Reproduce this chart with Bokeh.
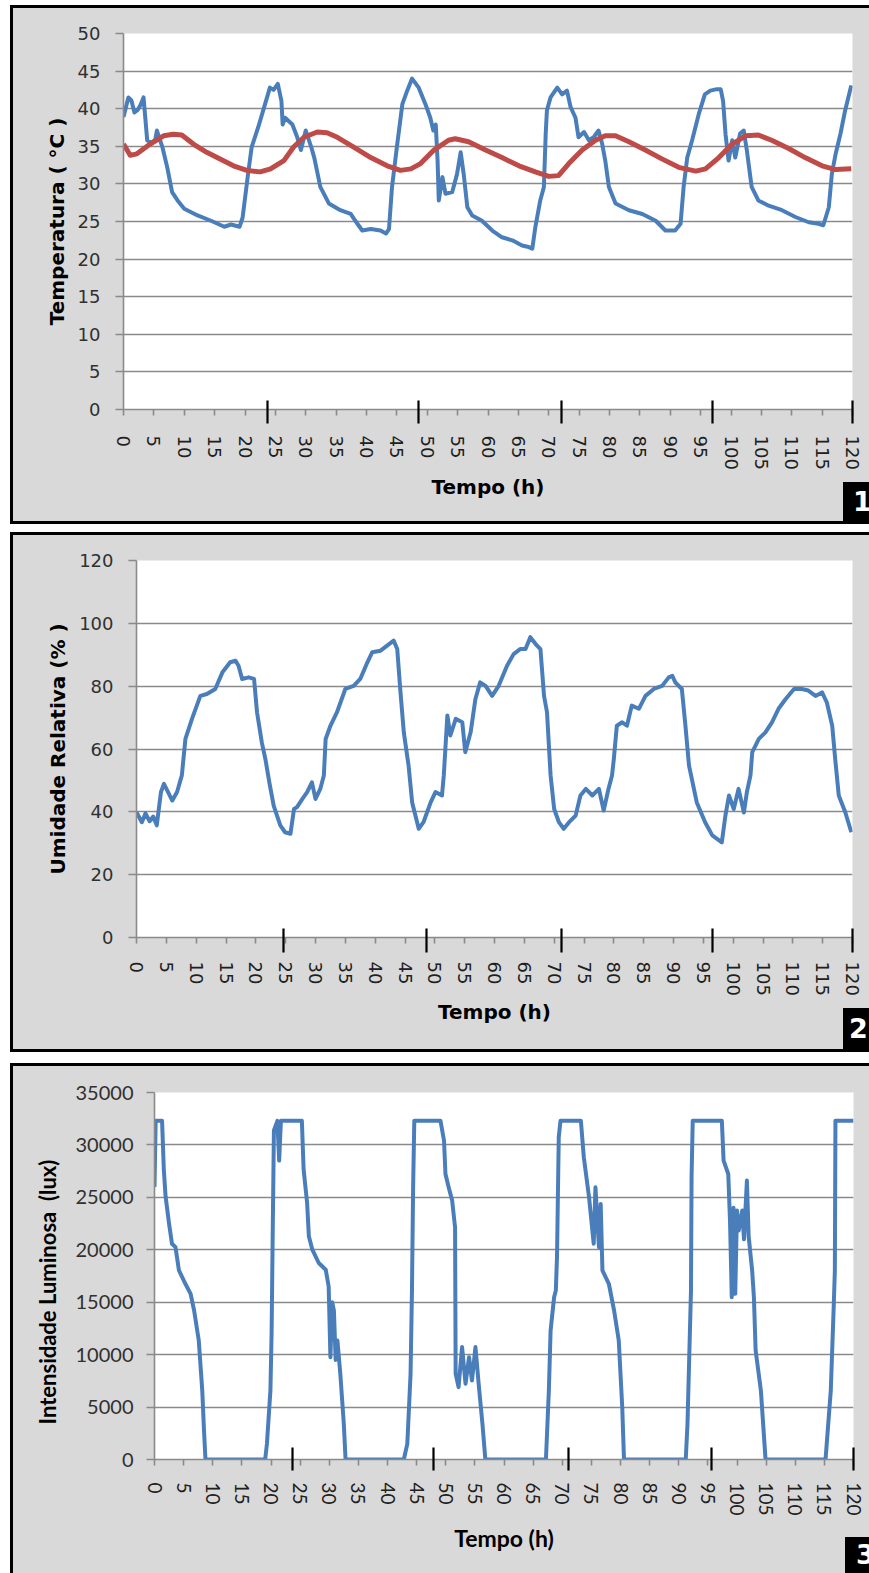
from bokeh.plotting import figure
from bokeh.layouts import column, row
from bokeh.models import Range1d, FixedTicker, Spacer, Div
from bokeh.embed import file_html
from bokeh.resources import INLINE

# ---------------- data ----------------
hour_ticks = list(range(0, 121, 5))
temp_ticks = list(range(0, 51, 5))
rh_ticks = list(range(0, 121, 20))
lux_ticks = list(range(0, 35001, 5000))

# Panel 1 - blue: air temperature
temp_hours = [0, 0.8, 1.3, 1.8, 2.3, 2.8, 3.3, 3.9, 4.5, 5.2,
              5.5, 6.4, 7.2, 8.0, 8.9, 10.0, 12.2, 14.4, 16.6, 17.7,
              19.1, 19.6, 20.5, 21.1, 22.2, 23.3, 24.1, 24.7, 25.4, 26.0,
              26.2, 26.6, 27.8, 28.6, 29.2, 30.0, 30.9, 31.4, 32.4, 33.8,
              35.7, 37.4, 38.5, 39.3, 40.7, 42.3, 43.2, 43.7, 44.2, 45.0,
              45.9, 46.7, 47.5, 48.6, 49.7, 50.5, 51.0, 51.4, 51.7, 51.9,
              52.5, 53.0, 54.1, 54.9, 55.5, 56.0, 56.6, 57.4, 59.0, 60.7,
              62.3, 64.0, 65.6, 66.7, 67.3, 67.8, 68.6, 69.2, 69.5, 69.7,
              70.3, 71.4, 72.2, 73.0, 73.6, 74.4, 74.9, 75.8, 76.6, 77.4,
              78.2, 78.8, 79.3, 79.9, 81.0, 83.2, 85.4, 87.6, 89.2, 90.8,
              91.7, 92.2, 92.8, 93.6, 94.7, 95.7, 96.6, 97.7, 98.3, 98.7,
              99.1, 99.6, 100.2, 100.7, 101.5, 102.1, 102.6, 103.4, 104.5, 106.2,
              108.4, 110.6, 112.8, 114.4, 115.2, 116.1, 116.6, 117.2, 118.0, 118.8,
              119.8]
temp_air = [38.9, 41.5, 41.1, 39.5, 39.8, 40.5, 41.5, 35.8, 35.5, 35.8,
            37.1, 34.9, 32.2, 28.9, 27.8, 26.7, 25.8, 25.1, 24.3, 24.6,
            24.3, 25.5, 31.3, 34.9, 37.6, 40.6, 42.8, 42.5, 43.3, 41.0,
            37.9, 38.8, 37.9, 36.2, 34.5, 37.1, 34.9, 33.5, 29.6, 27.4,
            26.5, 26.0, 24.7, 23.8, 24.0, 23.8, 23.4, 24.0, 29.6, 34.9,
            40.6, 42.4, 44.0, 42.8, 40.6, 38.8, 37.1, 37.9, 33.1, 27.8,
            30.9, 28.7, 28.9, 31.3, 34.2, 31.3, 26.9, 25.8, 25.1, 23.8,
            22.9, 22.5, 21.8, 21.6, 21.4, 24.3, 27.8, 29.6, 36.7, 39.8,
            41.5, 42.8, 41.9, 42.4, 40.2, 38.8, 36.2, 36.9, 35.8, 36.2,
            37.1, 35.3, 33.1, 29.6, 27.4, 26.5, 26.0, 25.1, 23.8, 23.8,
            24.7, 29.6, 33.5, 35.8, 39.3, 41.9, 42.4, 42.6, 42.6, 41.0,
            36.6, 33.1, 35.8, 33.5, 36.7, 37.1, 34.5, 29.6, 27.8, 27.1,
            26.5, 25.6, 24.9, 24.7, 24.5, 26.9, 31.3, 33.9, 36.6, 39.8,
            43.1]

# Panel 1 - red: second temperature series
ref_hours = [0, 1.1, 2.2, 4.4, 6.6, 8.2, 9.6, 11.5, 13.7, 15.9,
             18.1, 20.3, 22.5, 24.2, 26.4, 28.0, 29.7, 31.9, 33.5, 35.2,
             37.9, 40.7, 43.4, 45.6, 47.3, 48.9, 51.1, 53.5, 54.6, 56.8,
             59.6, 62.3, 65.1, 67.8, 70.0, 71.6, 73.3, 75.5, 77.7, 79.3,
             81.0, 83.2, 85.9, 88.7, 91.4, 94.2, 95.8, 98.0, 100.2, 102.4,
             104.5, 106.7, 109.5, 112.2, 115.0, 117.2, 119.8]
ref_temp = [35.3, 33.8, 34.0, 35.3, 36.4, 36.6, 36.5, 35.3, 34.2, 33.3,
            32.4, 31.8, 31.6, 32.0, 33.1, 34.9, 36.2, 36.9, 36.8, 36.2,
            34.9, 33.5, 32.4, 31.8, 32.0, 32.7, 34.5, 35.8, 36.0, 35.6,
            34.5, 33.5, 32.4, 31.6, 31.0, 31.1, 32.7, 34.5, 35.8, 36.4,
            36.4, 35.6, 34.5, 33.3, 32.2, 31.7, 32.0, 33.5, 35.3, 36.4,
            36.5, 35.8, 34.7, 33.5, 32.4, 31.9, 32.0]

# Panel 2 - relative humidity
rh_hours = [0, 0.9, 1.5, 2.2, 2.8, 3.4, 4.1, 4.6, 6.0, 6.8,
            7.6, 8.2, 9.3, 10.7, 11.8, 13.2, 14.4, 15.7, 16.6, 17.1,
            17.7, 18.8, 19.7, 20.2, 21.0, 21.6, 22.3, 23.0, 24.1, 24.9,
            25.8, 26.4, 26.9, 27.8, 28.6, 29.4, 30.0, 30.8, 31.4, 31.7,
            32.5, 33.6, 35.0, 36.4, 37.5, 38.7, 39.5, 40.9, 42.0, 43.1,
            43.7, 44.2, 44.8, 45.6, 46.2, 47.3, 48.1, 49.3, 50.1, 51.2,
            51.5, 52.1, 52.6, 53.5, 54.6, 55.1, 56.0, 56.8, 57.6, 58.5,
            59.6, 60.7, 62.1, 63.2, 64.3, 65.2, 66.0, 66.9, 67.7, 68.3,
            68.8, 69.4, 70.0, 70.8, 71.6, 72.5, 73.6, 74.4, 75.3, 76.4,
            77.5, 78.3, 79.1, 79.7, 80.0, 80.5, 81.4, 82.2, 83.0, 84.2,
            85.3, 86.7, 88.1, 89.2, 89.8, 90.3, 91.4, 92.0, 92.6, 93.9,
            95.3, 96.5, 98.1, 98.7, 99.3, 100.1, 100.9, 101.8, 102.3, 102.9,
            103.2, 104.3, 105.4, 106.5, 107.6, 108.8, 110.2, 111.5, 112.6, 113.8,
            114.9, 115.7, 116.6, 117.1, 117.7, 118.8, 119.8]
rh_values = [39.9, 36.7, 39.5, 37.0, 38.5, 35.7, 46.3, 48.9, 43.6, 46.3,
             51.6, 63.2, 69.6, 76.9, 77.5, 79.1, 84.4, 87.6, 88.1, 86.5,
             82.3, 82.8, 82.3, 71.7, 62.1, 56.8, 49.0, 41.9, 35.7, 33.5,
             33.0, 40.9, 41.5, 44.1, 46.3, 49.4, 44.1, 47.3, 51.6, 63.2,
             67.4, 71.7, 79.1, 80.1, 82.3, 87.6, 90.8, 91.3, 92.9, 94.5,
             91.8, 79.1, 65.3, 54.7, 43.0, 34.6, 36.7, 43.0, 46.3, 45.2,
             51.6, 70.7, 64.3, 69.6, 68.5, 59.0, 65.3, 75.9, 81.2, 80.1,
             76.9, 80.1, 86.5, 90.2, 91.8, 91.8, 95.6, 93.4, 91.8, 76.9,
             71.7, 51.6, 40.9, 36.7, 34.6, 36.7, 38.8, 45.2, 47.3, 45.2,
             47.3, 40.4, 47.3, 51.6, 56.8, 67.4, 68.5, 67.4, 73.8, 72.8,
             76.9, 79.1, 80.1, 82.8, 83.3, 81.2, 79.1, 67.4, 54.7, 43.0,
             36.7, 32.5, 30.3, 38.8, 45.2, 40.9, 47.3, 39.8, 46.3, 51.6,
             59.0, 63.2, 65.3, 68.5, 72.8, 75.9, 79.1, 79.1, 78.6, 76.9,
             78.0, 74.8, 67.4, 56.8, 45.2, 39.8, 33.5]

# Panel 3 - light intensity (lux)
lux_hours = [0, 0.2, 1.3, 1.6, 1.9, 2.5, 3.0, 3.6, 4.2, 5.3,
             6.2, 6.8, 7.6, 8.2, 8.5, 8.75, 19.0, 19.3, 19.9, 20.1,
             20.3, 20.5, 21.1, 21.4, 21.7, 25.3, 25.6, 26.2, 26.5, 27.1,
             28.2, 29.4, 29.9, 30.2, 30.5, 30.8, 31.1, 31.4, 31.9, 32.5,
             32.8, 42.8, 43.4, 43.96, 44.2, 44.4, 44.6, 49.1, 49.7, 49.95,
             50.5, 51.1, 51.6, 51.7, 52.2, 52.8, 53.4, 54.0, 54.5, 55.1,
             55.7, 56.3, 56.8, 67.2, 67.7, 68.0, 68.6, 68.9, 69.1, 69.4,
             69.7, 73.2, 73.7, 74.6, 75.4, 75.7, 76.3, 76.6, 76.9, 78.0,
             78.9, 79.7, 80.3, 80.6, 91.2, 91.5, 92.1, 92.2, 92.4, 97.4,
             97.7, 98.5, 98.8, 99.1, 99.4, 99.7, 100.0, 100.3, 100.9, 101.2,
             101.7, 102.0, 102.6, 102.9, 103.2, 104.1, 104.9, 115.2, 116.1, 116.6,
             116.8, 116.9, 120]
lux_values = [26000, 32300, 32300, 27650, 25100, 22480, 20570, 20250, 18030, 16760,
              15800, 14210, 11350, 6580, 2760, 0, 0, 1490, 6580, 12000,
              21840, 31380, 32300, 28510, 32300, 32300, 27650, 24470, 21290, 20010,
              18740, 18100, 16500, 9760, 15000, 14210, 9500, 11350, 8170, 3400,
              0, 0, 1490, 8170, 16120, 26000, 32300, 32300, 30420, 27230,
              25960, 24690, 22140, 8170, 6900, 10720, 7220, 9760, 7530, 10720,
              6900, 3400, 0, 0, 6580, 12300, 15480, 16120, 19380, 30760,
              32300, 32300, 28830, 25010, 20570, 25960, 20250, 24370, 18030, 16760,
              14210, 11350, 5000, 0, 0, 3400, 16120, 26920, 32300, 32300,
              28510, 27230, 22780, 15480, 24000, 15800, 23740, 21840, 23740, 21000,
              26600, 21290, 18030, 15480, 10400, 6580, 0, 0, 6580, 14530,
              18030, 32300, 32300]

# hand-drawn day marks on the time axes (hours)
day_marks_1 = [23.65, 48.5, 72.1, 96.9, 120]
day_marks_2 = [24.6, 48.6, 71.2, 96.5, 120]
day_marks_3 = [23.7, 47.9, 71.1, 95.7, 120]

# ---------------- styling ----------------
PAGE_LEFT = 10     # white strip left of the panels
BLOCK_W = 859      # panel incl. its 3px left border
BORDER = 3
CANVAS_W = BLOCK_W - BORDER
BG = "#d9d9d9"
GRID = "#8a8a8a"
BLUE = "#4a7ebb"
RED = "#be4b48"


def bar(w, h, color="black"):
    return Div(text="", width=w, height=h, margin=(0, 0, 0, 0),
               styles={"background-color": color})


def number_box(number, left, width, height, pad_left):
    html = ('<div style="margin:0;padding:0 0 0 %dpx;color:white;font-family:\'DejaVu Sans\';'
            'font-weight:bold;font-size:27px;line-height:%dpx;">%s</div>' % (pad_left, height, number))
    return Div(text=html, width=width, height=height, margin=(0, 0, 0, 0),
               styles={"background-color": "black", "margin-top": "-%dpx" % height,
                       "margin-left": "%dpx" % left, "position": "relative", "z-index": "10",
                       "overflow": "hidden"})


def make_panel(height, left, top, fw, fh, y_max, y_ticks, y_title,
               tick_font, ytick_size, xtick_size, title_font, ytitle_size, xtitle_size,
               ylab_standoff, ytitle_standoff, xlab_standoff, xtitle_standoff,
               marks, mark_above, mark_below):
    right = CANVAS_W - left - fw
    bottom = height - top - fh
    p = figure(width=CANVAS_W, height=height, x_range=Range1d(0, 120), y_range=Range1d(0, y_max),
               output_backend="svg", toolbar_location=None, frame_align=False,
               min_border_left=left, min_border_right=right,
               min_border_top=top, min_border_bottom=bottom)
    p.border_fill_color = BG
    p.background_fill_color = "white"
    p.outline_line_color = None
    p.xgrid.visible = False
    p.ygrid.grid_line_color = GRID
    p.ygrid.grid_line_width = 1.6

    ya = p.yaxis[0]
    ya.ticker = FixedTicker(ticks=y_ticks, minor_ticks=[])
    ya.axis_line_color = GRID
    ya.axis_line_width = 1.6
    ya.major_tick_line_color = GRID
    ya.major_tick_line_width = 1.6
    ya.major_tick_out = 8
    ya.major_tick_in = 0
    ya.minor_tick_line_color = None
    ya.major_label_text_font = tick_font
    ya.major_label_text_font_size = ytick_size
    ya.major_label_text_color = "#303030"
    ya.major_label_standoff = ylab_standoff
    ya.axis_label = y_title
    ya.axis_label_text_font = title_font
    ya.axis_label_text_font_style = "bold"
    ya.axis_label_text_font_size = ytitle_size
    ya.axis_label_text_color = "black"
    ya.axis_label_standoff = ytitle_standoff

    # time axis: gray 5-h ticks (major, labelled) and black day marks (minor)
    xa = p.xaxis[0]
    xa.ticker = FixedTicker(ticks=hour_ticks, minor_ticks=marks)
    xa.axis_line_color = GRID
    xa.axis_line_width = 1.6
    xa.major_tick_line_color = GRID
    xa.major_tick_line_width = 1.6
    xa.major_tick_in = 0
    xa.major_tick_out = 6
    xa.minor_tick_line_color = "black"
    xa.minor_tick_line_width = 2.2
    xa.minor_tick_in = mark_above
    xa.minor_tick_out = mark_below
    xa.major_label_orientation = "vertical"
    xa.major_label_text_font = tick_font
    xa.major_label_text_font_size = xtick_size
    xa.major_label_text_color = "#202020"
    xa.major_label_standoff = xlab_standoff
    xa.axis_label = "Tempo (h)"
    xa.axis_label_text_font = title_font
    xa.axis_label_text_font_style = "bold"
    xa.axis_label_text_font_size = xtitle_size
    xa.axis_label_text_color = "black"
    xa.axis_label_standoff = xtitle_standoff
    return p


def framed(p, height, box, bottom_border=True):
    body = row(bar(BORDER, height), p, styles={"background-color": BG})
    parts = [bar(BLOCK_W, BORDER), body, box]
    if bottom_border:
        parts.append(bar(BLOCK_W, BORDER))
    return row(Spacer(width=PAGE_LEFT), column(*parts, styles={"background-color": BG}))


p1 = make_panel(513, 110, 25, 729, 376, 50, temp_ticks, "Temperatura ( °C )",
                "DejaVu Sans", "18px", "18px", "DejaVu Sans", "20px", "20px",
                15, 6, 12, 2, day_marks_1, 9, 14)
p1.line(temp_hours, temp_air, line_color=BLUE, line_width=4, line_join="round")
p1.line(ref_hours, ref_temp, line_color=RED, line_width=5, line_join="round")

p2 = make_panel(514, 123, 25, 716, 377, 120, rh_ticks, "Umidade Relativa (% )",
                "DejaVu Sans", "18px", "18px", "DejaVu Sans", "20px", "20px",
                15, 6, 9, 1, day_marks_2, 9, 15)
p2.line(rh_hours, rh_values, line_color=BLUE, line_width=4, line_join="round")

p3 = make_panel(507, 141, 26, 699, 367, 35000, lux_ticks,
                "Intensidade Luminosa\u00a0 (lux)" + "\u00a0" * 6,
                "Lato", "20px", "19px", "Lato", "22px", "23px",
                13, 12, 12, 5, day_marks_3, 12, 11)
p3.line(lux_hours, lux_values, line_color=BLUE, line_width=4, line_join="round")

box1 = number_box("1", 833, 26, 39, 10)
box2 = number_box("2", 833, 26, 41, 6)
box3 = number_box("3", 835, 24, 36, 11)

layout = column(Spacer(height=5), framed(p1, 513, box1), Spacer(height=8), framed(p2, 514, box2),
                Spacer(height=11), framed(p3, 507, box3, bottom_border=False), spacing=0)

with open("out.html", "w") as f:
    f.write(file_html(layout, INLINE))
